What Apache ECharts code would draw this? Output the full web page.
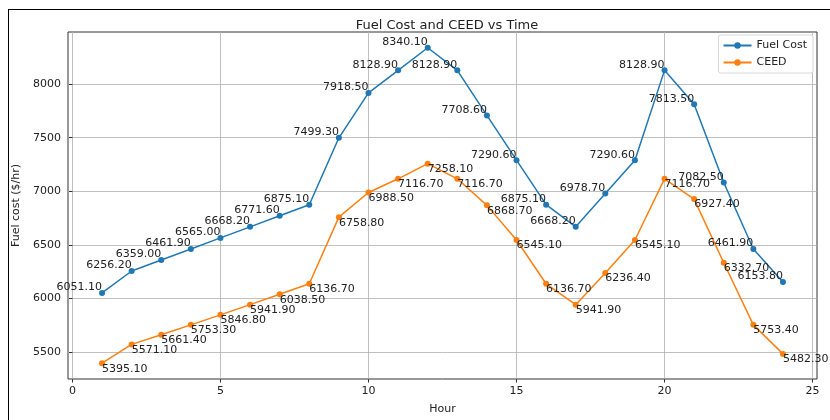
<!DOCTYPE html>
<html>
<head>
<meta charset="utf-8">
<script src="https://cdn.jsdelivr.net/npm/echarts@6/dist/echarts.min.js"></script>
<style>
  html, body { margin: 0; padding: 0; background: #fff; }
  #main { width: 830px; height: 420px; }
</style>
</head>
<body>
<div id="main"></div>
<script>
// 数据
var hours = [1, 2, 3, 4, 5, 6, 7, 8, 9, 10, 11, 12, 13, 14, 15, 16, 17, 18, 19, 20, 21, 22, 23, 24];
var fuelCost = [6051.10, 6256.20, 6359.00, 6461.90, 6565.00, 6668.20, 6771.60, 6875.10, 7499.30, 7918.50, 8128.90, 8340.10,
                8128.90, 7708.60, 7290.60, 6875.10, 6668.20, 6978.70, 7290.60, 8128.90, 7813.50, 7082.50, 6461.90, 6153.80];
var ceed = [5395.10, 5571.10, 5661.40, 5753.30, 5846.80, 5941.90, 6038.50, 6136.70, 6758.80, 6988.50, 7116.70, 7258.10,
            7116.70, 6868.70, 6545.10, 6136.70, 5941.90, 6236.40, 6545.10, 7116.70, 6927.40, 6332.70, 5753.40, 5482.30];
var xTicks = [0, 5, 10, 15, 20, 25];
var yTicks = [5500, 6000, 6500, 7000, 7500, 8000];

function pairs(ys) {
    return hours.map(function (h, i) { return [h, ys[i]]; });
}

var font = 'DejaVu Sans';
let myChart = echarts.init(document.getElementById('main'));

let option = {
    backgroundColor: '#fff',
    animation: false,
    textStyle: { fontFamily: font },
    title: {
        text: 'Fuel Cost and CEED vs Time',
        left: 442, top: 14, textAlign: 'center',
        textStyle: { fontFamily: font, fontSize: 13, fontWeight: 'normal', color: '#222' }
    },
    legend: {
        right: 17, top: 35,
        orient: 'vertical',
        itemWidth: 28, itemHeight: 8, itemGap: 6,
        backgroundColor: '#fff',
        borderColor: '#d8d8d8', borderWidth: 1, borderRadius: 2,
        padding: [5, 6, 5, 4],
        textStyle: { fontFamily: font, fontSize: 11, color: '#222' },
        data: ['Fuel Cost', 'CEED']
    },
    grid: {
        left: 68, right: 13, top: 32, bottom: 41,
        show: true, borderColor: '#333', borderWidth: 1
    },
    xAxis: {
        type: 'value',
        min: -0.15, max: 25.15,
        minInterval: 5, maxInterval: 5,
        name: 'Hour', nameLocation: 'middle', nameGap: 25,
        nameTextStyle: { fontFamily: font, fontSize: 11, color: '#222' },
        axisLine: { show: false },
        axisTick: { show: true, length: 3.5, customValues: xTicks, lineStyle: { color: '#333' } },
        axisLabel: { customValues: xTicks, formatter: function (v) { return String(v); },
                     fontFamily: font, fontSize: 11, color: '#222', margin: 7 },
        splitLine: { show: true, lineStyle: { color: '#b0b0b0', width: 0.8 } }
    },
    yAxis: {
        type: 'value',
        min: 5248, max: 8487,
        minInterval: 500, maxInterval: 500,
        name: 'Fuel cost ($/hr)', nameLocation: 'middle', nameGap: 39,
        nameTextStyle: { fontFamily: font, fontSize: 11, color: '#222' },
        axisLine: { show: false },
        axisTick: { show: true, length: 3.5, customValues: yTicks, lineStyle: { color: '#333' } },
        axisLabel: { customValues: yTicks, formatter: function (v) { return String(v); },
                     fontFamily: font, fontSize: 11, color: '#222', margin: 7 },
        splitLine: { show: true, lineStyle: { color: '#b0b0b0', width: 0.8 } }
    },
    series: [
        {
            name: 'Fuel Cost', type: 'line',
            data: pairs(fuelCost),
            symbol: 'circle', symbolSize: 6,
            itemStyle: { color: '#1f77b4' },
            lineStyle: { width: 1.5, color: '#1f77b4' },
            label: {
                show: true, position: 'top', align: 'right', distance: 0, offset: [0, 3],
                fontFamily: font, fontSize: 11, color: '#222',
                formatter: function (p) { return p.value[1].toFixed(2); }
            }
        },
        {
            name: 'CEED', type: 'line',
            data: pairs(ceed),
            symbol: 'circle', symbolSize: 6,
            itemStyle: { color: '#ff7f0e' },
            lineStyle: { width: 1.5, color: '#ff7f0e' },
            label: {
                show: true, position: 'bottom', align: 'left', distance: 0, offset: [0, -3],
                fontFamily: font, fontSize: 11, color: '#222',
                formatter: function (p) { return p.value[1].toFixed(2); }
            }
        }
    ],
    graphic: [
        { type: 'line', shape: { x1: 8, y1: 9.5, x2: 830, y2: 9.5 }, style: { stroke: '#000', lineWidth: 1 } },
        { type: 'line', shape: { x1: 8.5, y1: 9, x2: 8.5, y2: 420 }, style: { stroke: '#000', lineWidth: 1 } }
    ]
};
myChart.setOption(option);
</script>
</body>
</html>
